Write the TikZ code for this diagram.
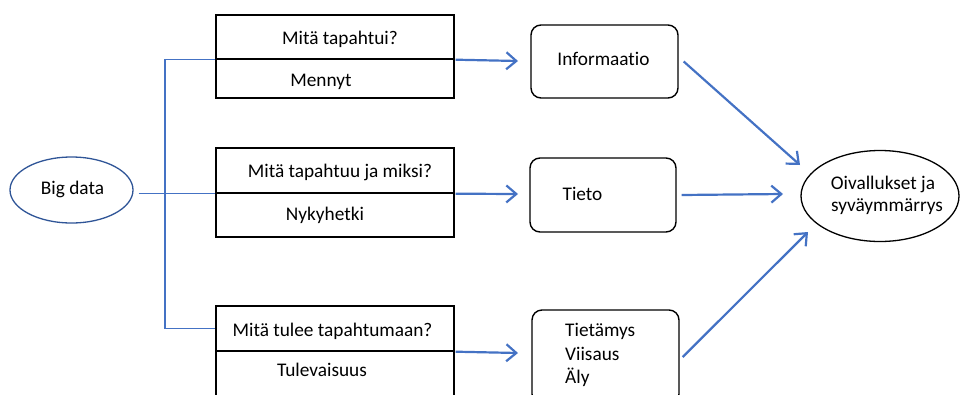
\documentclass[tikz,border=0pt]{standalone}
\usepackage{fontspec}
\setmainfont[Ligatures=NoCommon]{Carlito}
\usetikzlibrary{arrows.meta,shapes.geometric,calc}
\definecolor{linkblue}{HTML}{4472C4}
\definecolor{ovalblue}{HTML}{2F5597}
\tikzset{
  cell/.style={draw=black, line width=1.4pt, rectangle, minimum width=238pt, inner sep=0pt},
  rbox/.style={draw=black, line width=1.4pt, rectangle, rounded corners=10pt, inner sep=0pt},
  oval/.style={ellipse, line width=1.3pt, inner sep=0pt},
  txt/.style={anchor=base, inner sep=0pt, font=\fontsize{19.3}{23}\selectfont},
  link/.style={draw=linkblue, line width=1.4pt},
  arr/.style={draw=linkblue, line width=2.2pt, -{Straight Barb[length=10pt,width=17pt]}},
}
\begin{document}
\begin{tikzpicture}[x=1pt, y=-1pt]
  \useasboundingbox (0,0) rectangle (960,394);
  \clip (0,0) rectangle (960,394);

  % source
  \node[oval, draw=ovalblue, minimum width=123pt, minimum height=66pt] (bd) at (71.5,190) {};
  \node[txt] (bdt) at (72.5,194) {Big data};

  % question / time boxes
  \node[cell, minimum height=44pt] (b1top) at (335,37) {};
  \node[cell, minimum height=39pt] (b1bot) at (335,78.5) {};
  \node[cell, minimum height=45pt] (b2top) at (335,170.5) {};
  \node[cell, minimum height=44pt] (b2bot) at (335,215) {};
  \node[cell, minimum height=45pt] (b3top) at (335,328.5) {};
  \node[cell, minimum height=45pt] (b3bot) at (335,373.5) {};

  \node[txt] (q1) at (340,44.5) {Mitä tapahtui?};
  \node[txt] (t1) at (321,86.5) {Mennyt};
  \node[txt] (q2) at (340,177.5) {Mitä tapahtuu ja miksi?};
  \node[txt] (t2) at (325,220.5) {Nykyhetki};
  \node[txt] (q3) at (332.5,336) {Mitä tulee tapahtumaan?};
  \node[txt] (t3) at (322,376.5) {Tulevaisuus};

  % result boxes
  \node[rbox, minimum width=147pt, minimum height=73pt] (info) at (604.5,61.5) {};
  \node[rbox, minimum width=146pt, minimum height=74pt] (tieto) at (603,195) {};
  \node[rbox, minimum width=147pt, minimum height=94pt] (wis) at (605.5,357) {};

  \node[txt] (infot) at (603.5,65.5) {Informaatio};
  \node[txt] (tietot) at (582.5,200) {Tieto};
  \node[txt, anchor=base west] (w1) at (565,336.5) {Tietämys};
  \node[txt, anchor=base west] (w2) at (565,360) {Viisaus};
  \node[txt, anchor=base west] (w3) at (565,383.5) {Äly};

  % goal
  \node[oval, draw=black, minimum width=158pt, minimum height=91pt] (oiv) at (880,196) {};
  \node[txt] (o1) at (883,189.5) {Oivallukset ja};
  \node[txt] (o2) at (887,211.5) {syväymmärrys};

  % tips of the arrows
  \coordinate (tipA) at (518,61);
  \coordinate (tipB) at (518,194);
  \coordinate (tipC) at (518,353);
  \coordinate (tipD) at (800,165);
  \coordinate (tipE) at (783,194);
  \coordinate (tipF) at (808,232);
  \coordinate (trunk) at (165,193);

  % branching from the source
  \draw[link] ($(bd.east |- b2top.south)+(5,0)$) -- (b2top.south west);
  \draw[link] (b1top.south west) -| (trunk) |- (b3top.west);

  % arrows
  \draw[arr] ([xshift=1pt]b1top.south east) -- (tipA);
  \draw[arr] ([xshift=1pt]b2top.south east) -- (tipB);
  \draw[arr] ([xshift=1pt]b3top.south east) -- (tipC);
  \draw[arr] ([xshift=5pt]info.east) -- (tipD);
  \draw[arr] ([xshift=5pt]tieto.east) -- (tipE);
  \draw[arr] ([xshift=3pt]wis.east) -- (tipF);
\end{tikzpicture}
\end{document}
